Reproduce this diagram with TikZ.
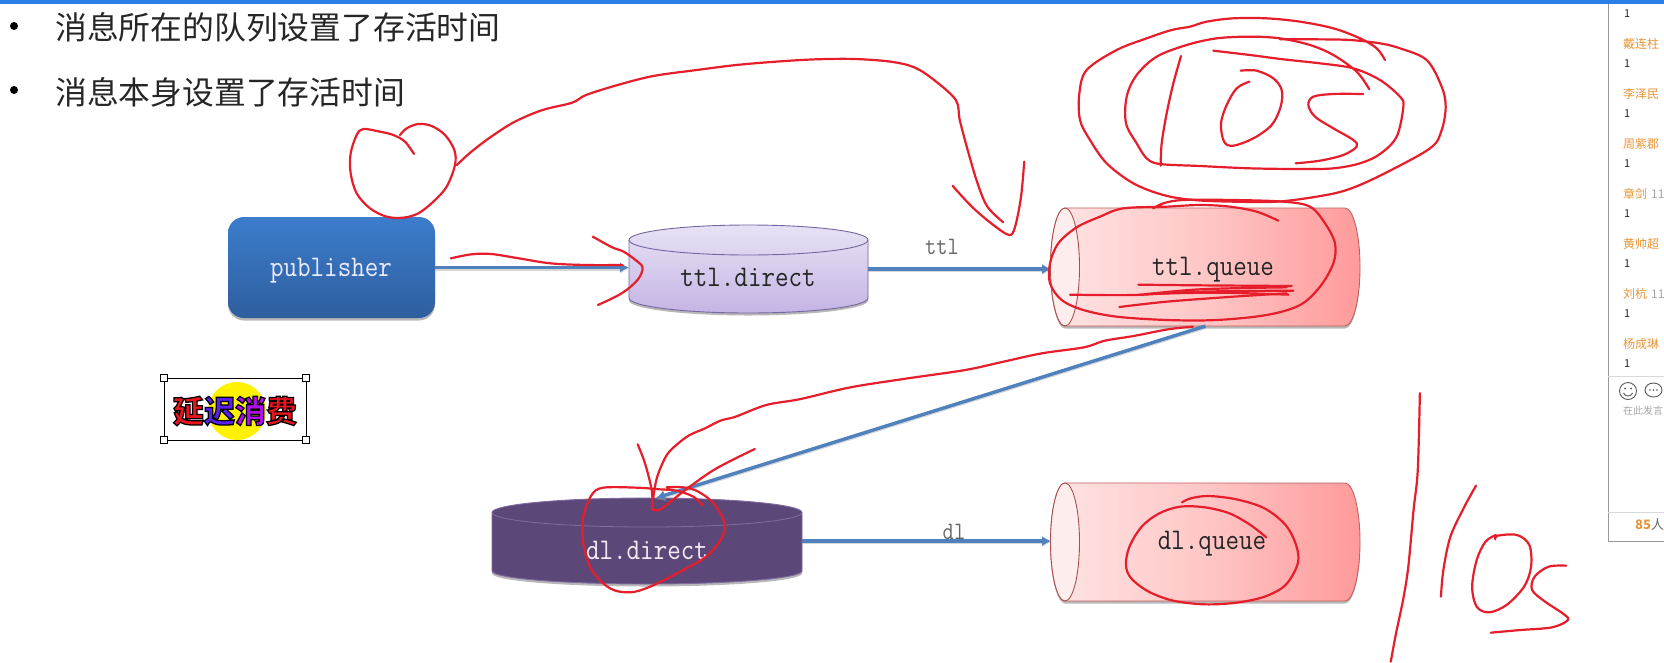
\documentclass[tikz,border=0pt]{standalone}
\usepackage{fontspec}
\usetikzlibrary{arrows.meta,shadows,calc}
\newfontfamily\cjk{Noto Sans CJK SC}
\definecolor{ink}{HTML}{E61E2B}
\definecolor{flow}{HTML}{4F81BD}
\definecolor{panelorange}{HTML}{E8963A}
\newcommand{\mtxt}[1]{\scalebox{0.875}[1]{#1}}
\tikzset{
  redline/.style={draw=ink,line width=2.2pt,line cap=round,line join=round},
  stroke/.style={redline},
  flowline/.style={draw=flow,line width=3.4pt,-{Latex[length=9pt,width=10pt]},
    preaction={draw=black!35,opacity=.45,line width=3.4pt,transform canvas={yshift=-1.3pt}}},
  mono/.style={font=\ttfamily\fontsize{30}{32}\selectfont,inner sep=0pt,text=black!85},
  edgelab/.style={font=\ttfamily\fontsize{25}{27}\selectfont,inner sep=0pt,text=black!60},
  boxanchor/.style={inner sep=0pt,outer sep=0pt,draw=none},
  softshadow/.style={drop shadow={shadow xshift=0pt,shadow yshift=-2.5pt,opacity=.28,fill=black}},
  queuebody/.style={draw=queueedge,line width=.9pt,left color=queueL,right color=queueR,middle color=queueM},
  queuecap/.style={draw=queuecapedge,line width=.9pt,fill=queuecapfill},
  handle/.style={draw=black,fill=white,line width=.9pt,minimum size=7pt,inner sep=0pt},
  head/.style={font=\cjk\fontsize{31.8}{34}\selectfont,inner sep=0pt,anchor=west,text=black!85},
  pname/.style={font=\cjk\fontsize{12}{14}\selectfont,inner sep=0pt,anchor=west,text=panelorange},
  pone/.style={font=\cjk\fontsize{11}{13}\selectfont,inner sep=0pt,anchor=west,text=black!85},
  pgrey/.style={font=\cjk\fontsize{12}{14}\selectfont,inner sep=0pt,anchor=west,text=black!35},
  pinput/.style={font=\cjk\fontsize{10}{12}\selectfont,inner sep=0pt,anchor=west,text=black!35},
  bulletdot/.style={circle,fill=black,inner sep=0pt,minimum size=8pt},
  pline/.style={draw=black!40,line width=.9pt},
  psep/.style={draw=black!15,line width=.8pt},
  picon/.style={draw=black!65,line width=.9pt},
  zoomone/.style={shift={(1000,0)},xscale=1/3,yscale=1/3},
  zoomthree/.style={shift={(140,100)},xscale=1/3,yscale=1/3},
  zoomfour/.style={shift={(470,400)},xscale=1/3,yscale=1/3},
  zoomfive/.style={shift={(1040,470)},xscale=0.35075,yscale=1/3},
  zoomseven/.style={shift={(420,40)},xscale=0.39541,yscale=1/3},
  zoomeight/.style={shift={(640,300)},xscale=0.38265,yscale=1/3},
}
\definecolor{queueL}{HTML}{FFE4E4}
\definecolor{queueM}{HTML}{FFC6C6}
\definecolor{queueR}{HTML}{FF9A9A}
\definecolor{queueedge}{HTML}{C06060}
\definecolor{queuecapedge}{HTML}{A85050}
\definecolor{queuecapfill}{HTML}{FDEDED}
\definecolor{stickred}{HTML}{E8141E}
\definecolor{stickblue}{HTML}{5A20F0}
\definecolor{stickpurple}{HTML}{B010F0}
\newcommand{\redstroke}[1]{\draw[stroke] plot[smooth,tension=.55] coordinates {#1};}
\begin{document}
\begin{tikzpicture}[x=1pt,y=-1pt]
\useasboundingbox (0,0) rectangle (1664,662);
\fill[white] (0,0) rectangle (1664,662);
\fill[fill={rgb,255:red,42;green,128;blue,232}] (0,0) rectangle (1664,4);

% headings
\node[bulletdot] (b1) at (14,26) {};
\node[bulletdot] (b2) at (14,90) {};
\node[head] (h1) at (55,27) {消息所在的队列设置了存活时间};
\node[head] (h2) at (55,92) {消息本身设置了存活时间};

% publisher
\node[rounded corners=16pt,minimum width=207pt,minimum height=101pt,inner sep=0pt,
  top color={rgb,255:red,60;green,125;blue,204},bottom color={rgb,255:red,46;green,94;blue,158},
  softshadow] (pub) at (331.5,267.5) {};
\node[mono,text=white!92!blue] (pubtext) at (331,271) {\mtxt{publisher}};

% ttl.direct
\path[softshadow,draw={rgb,255:red,117;green,102;blue,160},line width=.9pt,
  top color={rgb,255:red,232;green,226;blue,245},bottom color={rgb,255:red,196;green,180;blue,228}]
  (629,240) arc[start angle=180,end angle=0,x radius=119.5pt,y radius=15pt]
  -- (868,298) arc[start angle=0,end angle=-180,x radius=119.5pt,y radius=15pt] -- cycle;
\draw[draw={rgb,255:red,117;green,102;blue,160},line width=.9pt]
  (629,240) arc[start angle=180,end angle=360,x radius=119.5pt,y radius=15pt];
\node[boxanchor,minimum width=239pt,minimum height=88pt] (tdbox) at (748.5,269) {};
\node[mono] (tdtext) at (748,277) {\mtxt{ttl.direct}};

% ttl.queue
\path[queuebody,softshadow] (1065,208) -- (1345,208)
  arc[start angle=90,end angle=-90,x radius=15pt,y radius=59pt] -- (1065,326)
  arc[start angle=-90,end angle=-270,x radius=14.5pt,y radius=59pt] -- cycle;
\draw[queuecap] (1065,267) ellipse[x radius=14.5pt,y radius=59pt];
\node[boxanchor,minimum width=309pt,minimum height=118pt] (tqbox) at (1205.5,267) {};
\node[mono] (tqtext) at (1213,270) {\mtxt{ttl.queue}};

% dl.direct
\path[softshadow,draw={rgb,255:red,128;green,108;blue,160},line width=.9pt,
  fill={rgb,255:red,92;green,72;blue,120}]
  (492,512.5) arc[start angle=180,end angle=0,x radius=155pt,y radius=14.5pt]
  -- (802,571) arc[start angle=0,end angle=-180,x radius=155pt,y radius=13pt] -- cycle;
\draw[draw={rgb,255:red,128;green,108;blue,160},line width=.8pt]
  (492,512.5) arc[start angle=180,end angle=360,x radius=155pt,y radius=14.5pt];
\node[boxanchor,minimum width=310pt,minimum height=86pt] (ddbox) at (647,541) {};
\node[mono,text=white!92!violet] (ddtext) at (647,550) {\mtxt{dl.direct}};

% dl.queue
\path[queuebody,softshadow] (1065,483) -- (1345,483)
  arc[start angle=90,end angle=-90,x radius=15pt,y radius=59pt] -- (1065,601)
  arc[start angle=-90,end angle=-270,x radius=14.5pt,y radius=59pt] -- cycle;
\draw[queuecap] (1065,542) ellipse[x radius=14.5pt,y radius=59pt];
\node[boxanchor,minimum width=309pt,minimum height=118pt] (dqbox) at (1205.5,542) {};
\node[mono] (dqtext) at (1212,544) {\mtxt{dl.queue}};

% connectors
\coordinate (ddtop) at (656,498);
\draw[flowline] (pub.east) -- (pub.east -| tdbox.west);
\draw[flowline] (tdbox.east |- 0,269) -- (tqbox.west |- 0,269);
\draw[flowline] (tqbox.south) -- (ddtop);
\draw[flowline] (ddbox.east) -- (ddbox.east -| dqbox.west);
\node[edgelab] (lttl) at (942,247) {\mtxt{ttl}};
\node[edgelab] (ldl) at (954,532) {\mtxt{dl}};

% sticker
\node[boxanchor,draw=black,line width=.9pt,minimum width=142pt,minimum height=62pt] (stick) at (235,409) {};
\fill[yellow] (237,411) circle[radius=29];
\node[inner sep=0pt,font=\cjk\bfseries\fontsize{31}{33}\selectfont] (sticktext) at (235,411) {%
  \addfontfeature{FakeBold=4}%
  {\color{stickred}\special{pdf:code 0 0 0 RG}延}%
  {\color{stickblue}\special{pdf:code 0 0 0 RG}迟}%
  {\color{stickpurple}\special{pdf:code 0 0 0 RG}消}%
  {\color{stickred}\special{pdf:code 0 0 0 RG}费}};
\node[handle] (hnw) at (stick.north west) {};
\node[handle] (hne) at (stick.north east) {};
\node[handle] (hsw) at (stick.south west) {};
\node[handle] (hse) at (stick.south east) {};

% right panel
\begin{scope}
\clip (1600,0) rectangle (1664,662);
\draw[pline] (1608,4) -- (1608,541) -- (1664,541);
\draw[psep] (1608,376) -- (1664,376);
\draw[psep] (1608,512) -- (1664,512);
\node[pone] (o0) at (1624,14) {1};
\node[pname] (n1) at (1623,44) {戴连柱};   \node[pone] (o1) at (1624,64) {1};
\node[pname] (n2) at (1623,94) {李泽民};   \node[pone] (o2) at (1624,114) {1};
\node[pname] (n3) at (1623,144) {周紫郡};  \node[pone] (o3) at (1624,164) {1};
\node[pname] (n4) at (1623,194) {章剑};    \node[pgrey] (t4) at (1651,194) {11};  \node[pone] (o4) at (1624,214) {1};
\node[pname] (n5) at (1623,244) {黄帅超};  \node[pone] (o5) at (1624,264) {1};
\node[pname] (n6) at (1623,294) {刘杭};    \node[pgrey] (t6) at (1651,294) {11};  \node[pone] (o6) at (1624,314) {1};
\node[pname] (n7) at (1623,344) {杨成琳};  \node[pone] (o7) at (1624,364) {1};
\draw[picon] (1628,391) circle[radius=8.5];
\fill[black!65] (1625,388.5) circle[radius=1] (1631,388.5) circle[radius=1];
\draw[picon] (1623.5,393) .. controls (1625,397) and (1631,397) .. (1632.5,393);
\draw[picon] (1653.5,390) ellipse[x radius=8.5pt,y radius=7pt];
\fill[black!65] (1650,390) circle[radius=.9] (1653.5,390) circle[radius=.9] (1657,390) circle[radius=.9];
\node[pinput] (inp) at (1623,411) {在此发言};
\node[inner sep=0pt,anchor=west,font=\cjk\fontsize{13}{15}\selectfont] (cnt) at (1635,525)
  {\textcolor{panelorange}{\bfseries 85}\textcolor{black!60}{人}};
\end{scope}

% red ink: publisher loop and long arrow
\begin{scope}[zoomthree]
\redstroke{(822,162)(795,125)(760,105)(720,95)(670,87)(650,105)(632,160)(632,220)(650,280)(690,325)(740,350)(790,353)(835,340)(880,305)(920,260)(945,195)(943,150)(915,105)(875,78)(835,72)(800,85)(780,105)}
\end{scope}
\begin{scope}[zoomseven]
\redstroke{(93,375)(130,335)(180,290)(240,245)(310,210)(385,188)(420,165)(500,135)(590,108)(700,90)(800,75)(900,65)(1000,58)(1100,57)(1190,65)(1250,82)(1300,120)(1355,180)(1365,240)(1385,330)(1410,430)(1435,500)(1475,547)}
\redstroke{(1347,437)(1360,455)(1400,505)(1450,555)(1490,585)(1505,560)(1520,470)(1528,365)}
\redstroke{(78,655)(130,643)(180,642)(250,655)(330,670)(420,675)(512,675)}
\redstroke{(437,590)(470,612)(490,624)(515,635)(545,660)(563,683)(550,720)(510,760)(450,795)}
\end{scope}
% red ink: 10s at the top
\begin{scope}[zoomone]
\redstroke{(1155,180)(1130,145)(1080,115)(1000,85)(900,65)(800,55)(700,55)(620,65)(570,80)(515,90)(440,115)(350,150)(260,210)(238,280)(240,360)(270,420)(320,490)(400,550)(490,585)(580,600)(700,605)(830,605)(950,590)(1040,570)(1140,527)(1290,445)(1325,390)(1337,320)(1325,260)(1280,180)(1200,145)(1140,130)(1050,120)(950,118)(840,118)}
\redstroke{(1108,268)(1070,215)(1000,165)(930,135)(840,115)(750,110)(650,115)(560,135)(470,170)(410,225)(380,290)(378,370)(410,430)(440,475)(480,492)(600,498)(750,505)(900,507)(1000,505)(1080,490)(1140,462)(1190,410)(1210,320)(1200,290)(1140,240)(1060,205)(960,190)(850,178)(750,165)(640,152)}
\redstroke{(543,168)(520,250)(500,340)(485,430)(482,497)}
\redstroke{(722,212)(770,212)(820,235)(845,270)(842,320)(815,375)(760,415)(700,437)(672,425)(663,370)(680,315)(710,265)(748,245)}
\redstroke{(1090,282)(1000,282)(940,290)(925,315)(945,350)(1000,385)(1060,420)(1070,440)(1030,465)(960,482)(887,490)}
\redstroke{(835,662)(770,635)(690,620)(600,615)(500,620)(370,625)(300,650)(230,682)(175,730)(150,790)(150,850)(185,900)(250,930)(350,950)(500,960)(650,960)(800,945)(900,915)(960,860)(1000,790)(1005,730)(975,670)(930,620)(850,605)(700,600)(550,600)(490,610)(460,625)}
\redstroke{(415,854)(600,856)(875,858)}
\redstroke{(210,884)(400,885)(600,875)(880,872)}
\redstroke{(415,885)(600,868)(860,862)}
\redstroke{(440,882)(650,878)(865,884)}
\redstroke{(358,921)(500,905)(700,890)(860,880)}
\end{scope}
% red ink: second arrow and dl.direct circle
\begin{scope}[zoomeight]
\redstroke{(1445,80)(1380,88)(1290,108)(1215,122)(1160,142)(1050,160)(950,185)(850,210)(700,235)(550,262)(420,297)(330,315)(250,350)(210,362)(170,385)(130,405)(100,430)(70,465)(45,530)(35,590)(32,625)(50,630)(85,600)(130,560)(200,505)(300,447)}
\end{scope}
\begin{scope}[zoomfour]
\redstroke{(503,133)(525,190)(545,270)(548,330)}
\redstroke{(697,315)(670,290)(620,272)(570,268)(500,263)(400,263)(365,285)(340,350)(340,430)(365,510)(420,565)(480,577)(540,560)(640,510)(720,460)(765,385)(735,315)(685,275)(640,262)(590,262)}
\end{scope}
% red ink: dl.queue and 10s at the bottom right
\begin{scope}[zoomfive]
\redstroke{(645,202)(600,165)(540,130)(470,112)(400,110)(340,130)(290,170)(255,230)(245,285)(260,325)(310,365)(380,392)(470,403)(560,398)(640,380)(700,345)(735,280)(730,225)(700,165)(640,115)(560,88)(480,78)(430,85)(405,97)}
\redstroke{(1083,-231)(1077,0)(1065,120)(1050,290)(1035,390)(1015,490)(1000,575)}
\redstroke{(1243,47)(1210,110)(1170,200)(1150,300)(1143,380)}
\redstroke{(1298,208)(1305,197)(1360,195)(1395,225)(1400,290)(1380,350)(1330,405)(1280,427)(1245,410)(1232,350)(1245,270)(1270,215)(1300,195)}
\redstroke{(1500,287)(1450,290)(1410,320)(1403,360)(1440,395)(1490,430)(1505,450)(1460,472)(1370,480)(1285,488)}
\end{scope}
\end{tikzpicture}
\end{document}
